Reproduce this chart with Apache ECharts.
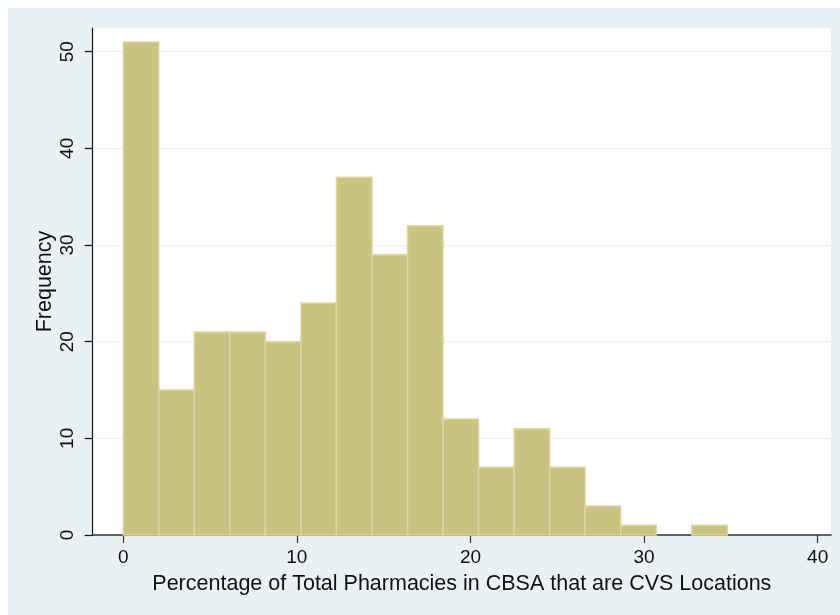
<!DOCTYPE html>
<html>
<head>
<meta charset="utf-8">
<script src="https://cdn.jsdelivr.net/npm/echarts@6/dist/echarts.min.js"></script>
<style>
  html, body { margin: 0; padding: 0; background: #ffffff; }
  #chart { width: 840px; height: 615px; }
</style>
</head>
<body>
<div id="chart"></div>
<script>
// Histogram of CVS share of pharmacies per CBSA (17 equal-width bins)
const binStart = 0;
const binWidth = 2.047;
const frequencies = [51, 15, 21, 21, 20, 24, 37, 29, 32, 12, 7, 11, 7, 3, 1, 0, 1];
const xTicks = [0, 10, 20, 30, 40];
const yTicks = [0, 10, 20, 30, 40, 50];
const xTitle = 'Percentage of Total Pharmacies in CBSA that are CVS Locations';
const yTitle = 'Frequency';

const barData = frequencies.map((f, i) => [binStart + i * binWidth, binStart + (i + 1) * binWidth, f]);

const chart = echarts.init(document.getElementById('chart'), null, { renderer: 'canvas' });

const font = '"Liberation Sans", Arial, Helvetica, sans-serif';

chart.setOption({
  animation: false,
  backgroundColor: '#ffffff',
  graphic: [{
    type: 'rect',
    left: 8, top: 8,
    shape: { width: 832, height: 607 },
    style: { fill: '#e9f1f3' },
    z: -10
  }],
  grid: {
    left: 92.7, right: 9, top: 28, bottom: 80,
    show: true, backgroundColor: '#ffffff', borderWidth: 0
  },
  xAxis: {
    type: 'value',
    min: -1.76, max: 40.77,
    name: xTitle,
    nameLocation: 'middle',
    nameGap: 38,
    nameMoveOverlap: false,
    nameTextStyle: { fontFamily: font, fontSize: 21.5, color: '#111' },
    axisLine: { show: true, onZero: false, lineStyle: { color: '#333', width: 1.5 } },
    axisTick: { show: true, customValues: xTicks, length: 8, lineStyle: { color: '#333', width: 1.2 } },
    axisLabel: { customValues: xTicks, margin: 13, fontFamily: font, fontSize: 19, color: '#111' },
    splitLine: { show: false }
  },
  yAxis: {
    type: 'value',
    min: 0, max: 52.45, interval: 10,
    name: yTitle,
    nameLocation: 'middle',
    nameGap: 37,
    nameMoveOverlap: false,
    nameRotate: 90,
    nameTextStyle: { fontFamily: font, fontSize: 21.5, color: '#111' },
    axisLine: { show: true, onZero: false, lineStyle: { color: '#111', width: 1.2 } },
    axisTick: { show: true, customValues: yTicks, length: 8, lineStyle: { color: '#111', width: 1.2 } },
    axisLabel: { customValues: yTicks, rotate: 90, margin: 15, fontFamily: font, fontSize: 19, color: '#111' },
    splitLine: { show: true, lineStyle: { color: '#e6eef1', width: 1.2 } }
  },
  series: [{
    type: 'custom',
    data: barData,
    encode: { x: [0, 1], y: 2 },
    renderItem: function (params, api) {
      const h = api.value(2);
      if (!h) return null;
      const p0 = api.coord([api.value(0), 0]);
      const p1 = api.coord([api.value(1), h]);
      return {
        type: 'rect',
        shape: { x: p0[0], y: p1[1], width: p1[0] - p0[0], height: p0[1] - p1[1] },
        style: { fill: '#c9c280', stroke: '#dcd7a3', lineWidth: 1.5 }
      };
    }
  }]
});
</script>
</body>
</html>
